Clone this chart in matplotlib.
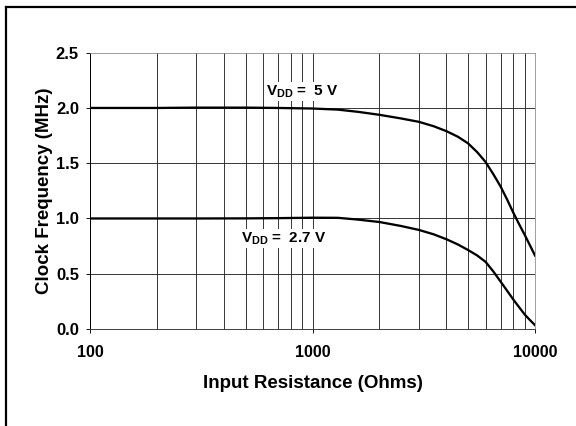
import matplotlib
matplotlib.use("Agg")
import matplotlib.pyplot as plt
from matplotlib.lines import Line2D
from matplotlib.ticker import FixedLocator, NullFormatter

plt.rcParams['font.family'] = ['Liberation Sans', 'DejaVu Sans']
plt.rcParams['font.weight'] = 'bold'
plt.rcParams['mathtext.fontset'] = 'custom'
plt.rcParams['mathtext.rm'] = 'Liberation Sans:bold'
plt.rcParams['mathtext.bf'] = 'Liberation Sans:bold'
plt.rcParams['mathtext.default'] = 'bf'

# Data
resistance = [100, 200, 300, 500, 700, 1000, 1300, 1600, 2000, 2500, 3000, 3500,
              4000, 4500, 5000, 5500, 6000, 6500, 7000, 7500, 8000, 8500, 9000,
              9500, 10000]
freq_5v = [2.0, 2.0, 2.003, 2.003, 2.0, 1.995, 1.985, 1.965, 1.938, 1.905, 1.875,
           1.835, 1.79, 1.74, 1.68, 1.60, 1.51, 1.40, 1.29, 1.17, 1.05, 0.945,
           0.85, 0.755, 0.665]
freq_27v = [1.0, 1.0, 1.0, 1.001, 1.003, 1.007, 1.006, 0.99, 0.968, 0.932, 0.897,
            0.857, 0.812, 0.765, 0.715, 0.665, 0.607, 0.52, 0.43, 0.345, 0.265,
            0.195, 0.13, 0.08, 0.035]
y_ticks = [0.0, 0.5, 1.0, 1.5, 2.0, 2.5]
x_ticks = [100, 1000, 10000]
x_ticklabels = ['100', '1000', '10000']
minor_x = [200, 300, 400, 500, 600, 700, 800, 900,
           2000, 3000, 4000, 5000, 6000, 7000, 8000, 9000]

fig = plt.figure(figsize=(8, 426 / 72), dpi=72)
ax = fig.add_axes([90 / 576, 1 - 329 / 426, 445 / 576, (329 - 52.7) / 426])

ax.set_xscale('log')
ax.set_xlim(100, 10000)
ax.set_ylim(0, 2.5)

grid_color = '#262626'
for xv in minor_x + [1000]:
    ax.axvline(xv, color=grid_color, lw=0.9, zorder=1)
for yv in [0.5, 1.0, 1.5, 2.0]:
    ax.axhline(yv, color=grid_color, lw=0.9, zorder=1)

ax.plot(resistance, freq_5v, color='black', lw=2.3, zorder=3)
ax.plot(resistance, freq_27v, color='black', lw=2.3, zorder=3)

ax.xaxis.set_major_locator(FixedLocator(x_ticks))
ax.set_xticklabels(x_ticklabels)
ax.xaxis.set_minor_locator(FixedLocator(minor_x))
ax.xaxis.set_minor_formatter(NullFormatter())
ax.set_yticks(y_ticks)
ax.set_yticklabels([f'{v:.1f}' for v in y_ticks])

ax.tick_params(axis='x', which='major', direction='out', length=4, width=0.9,
               labelsize=16, pad=12)
ax.tick_params(axis='x', which='minor', length=0)
ax.tick_params(axis='y', direction='out', length=4, width=0.9, labelsize=16.5, pad=7)

ax.spines['left'].set_color('black')
ax.spines['left'].set_linewidth(1.0)
ax.spines['bottom'].set_color('#444444')
ax.spines['bottom'].set_linewidth(1.0)
ax.spines['top'].set_color('#888888')
ax.spines['right'].set_color('#888888')

ax.set_xlabel('Input Resistance (Ohms)', fontsize=18.8, fontweight='bold', labelpad=15)
ax.set_ylabel('Clock Frequency (MHz)', fontsize=18.8, fontweight='bold', labelpad=3)

box = dict(facecolor='white', edgecolor='none', pad=1.5)
ax.text(900, 2.15, 'V$_{DD}$ =  5 V', fontsize=15.3, fontweight='bold',
        ha='center', va='center', bbox=box, zorder=4)
ax.text(738, 0.82, 'V$_{DD}$ =  2.7 V', fontsize=15.3, fontweight='bold',
        ha='center', va='center', bbox=box, zorder=4)

# outer frame (left and top edges visible)
fig.add_artist(Line2D([6 / 576, 6 / 576], [0, 1 - 7 / 426], transform=fig.transFigure,
                      color='black', lw=2.2))
fig.add_artist(Line2D([6 / 576, 1], [1 - 7 / 426, 1 - 7 / 426], transform=fig.transFigure,
                      color='black', lw=2.2))

fig.savefig('out.png', dpi=72)
